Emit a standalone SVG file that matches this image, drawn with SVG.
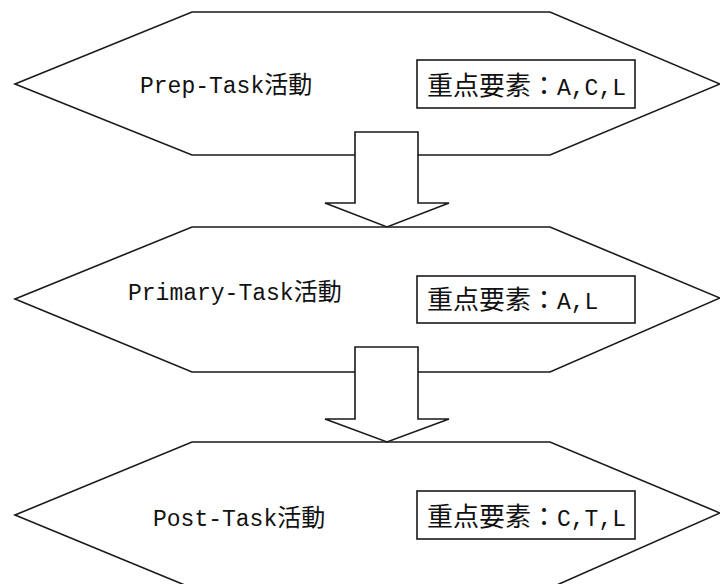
<svg xmlns="http://www.w3.org/2000/svg" width="720" height="584" viewBox="0 0 720 584">
<style>
.hex{fill:#fff;stroke:#1a1a1a;stroke-width:1.6;stroke-linejoin:miter}
.arr{fill:#fff;stroke:#1a1a1a;stroke-width:1.6}
.box{fill:#fff;stroke:#1a1a1a;stroke-width:1.6}
.t{font-family:"Liberation Mono","Noto Sans CJK TC",monospace;font-size:23px;fill:#111}
.c{font-family:"Noto Sans CJK TC","Noto Sans CJK SC",sans-serif;font-size:24px}
.bc{font-family:"Noto Sans CJK TC","Noto Sans CJK SC",sans-serif;font-size:26px}
.bl{font-family:"Liberation Mono",monospace;font-size:23px}
</style>
<rect width="720" height="584" fill="#fff"/>
<g id="node-prep">
<polygon class="hex" points="15,84 192,12 550,12 720,84 550,155 192,155"/>
</g>
<g id="node-primary">
<polygon class="hex" points="15,299 192,227 550,227 720,298 550,372 192,372"/>
</g>
<g id="node-post">
<polygon class="hex" points="15,515 192,442 550,442 720,513 550,588 192,588"/>
</g>
<g id="connectors">
<polygon class="arr" points="355,132 418,132 418,203 449,203 387,227 325,203 355,203"/>
<polygon class="arr" points="355,347 418,347 418,419 449,419 387,442 325,419 355,419"/>
</g>
<g id="label-prep">
<text class="t" x="140" y="93">Prep-Task<tspan class="c">活動</tspan></text>
<rect class="box" x="417" y="60" width="218" height="48"/>
<text class="t" x="427" y="95"><tspan class="bc">重点要素：</tspan><tspan class="bl">A,C,L</tspan></text>
</g>
<g id="label-primary">
<text class="t" x="128" y="300">Primary-Task<tspan class="c">活動</tspan></text>
<rect class="box" x="417" y="276" width="218" height="47"/>
<text class="t" x="427" y="309"><tspan class="bc">重点要素：</tspan><tspan class="bl">A,L</tspan></text>
</g>
<g id="label-post">
<text class="t" x="153" y="526">Post-Task<tspan class="c">活動</tspan></text>
<rect class="box" x="417" y="491" width="218" height="48"/>
<text class="t" x="427" y="526"><tspan class="bc">重点要素：</tspan><tspan class="bl">C,T,L</tspan></text>
</g>
</svg>
